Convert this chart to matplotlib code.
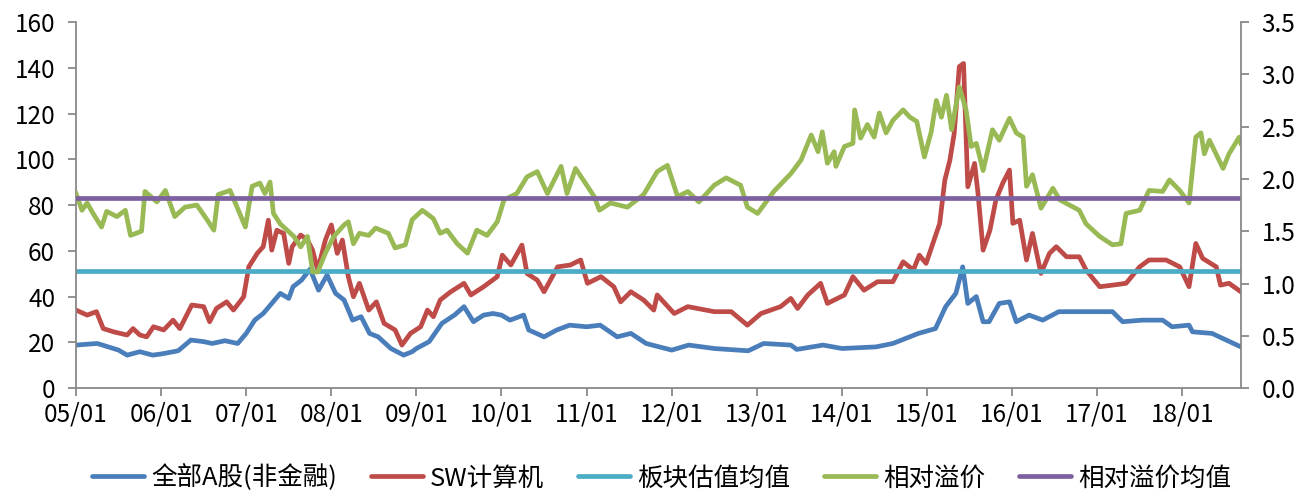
import matplotlib
matplotlib.use("Agg")
import matplotlib.pyplot as plt

plt.rcParams['font.family'] = ['Noto Sans CJK SC', 'DejaVu Sans']

# x positions are years since 2000 (5.0 = 2005-01)
tick_pos = list(range(5, 19))
tick_labels = ["05/01", "06/01", "07/01", "08/01", "09/01", "10/01", "11/01",
               "12/01", "13/01", "14/01", "15/01", "16/01", "17/01", "18/01"]

blue_x = [5.0, 5.25, 5.5, 5.6, 5.75, 5.9, 6.0, 6.2, 6.35, 6.5, 6.6, 6.75, 6.9, 7.0, 7.1, 7.2, 7.3, 7.4, 7.5,
          7.55, 7.65, 7.75, 7.85, 7.95, 8.05, 8.15, 8.25, 8.35, 8.45, 8.55, 8.7, 8.85, 8.95, 9.0, 9.15, 9.3,
          9.45, 9.56, 9.67, 9.79, 9.9, 10.0, 10.1, 10.26, 10.32, 10.5, 10.65, 10.8, 11.0, 11.16, 11.36, 11.52,
          11.7, 12.0, 12.2, 12.5, 12.9, 13.08, 13.4, 13.47, 13.78, 14.0, 14.4, 14.6, 14.9, 15.1, 15.22, 15.34,
          15.42, 15.48, 15.58, 15.66, 15.73, 15.85, 15.97, 16.05, 16.2, 16.36, 16.55, 16.87, 17.18, 17.3,
          17.53, 17.77, 17.88, 18.08, 18.12, 18.35, 18.69]
blue_y = [18.8, 19.5, 16.6, 14.4, 15.9, 14.4, 14.9, 16.3, 21, 20.3, 19.5, 20.7, 19.5, 23.9, 29.7, 32.6, 37, 41.4,
          39.2, 44.3, 47.2, 52, 42.8, 49.4, 41.4, 38.5, 29.7, 31.2, 23.9, 22.4, 17.3, 14.4, 15.9, 17.3, 20.3,
          28.3, 32, 35.6, 29, 31.9, 32.6, 31.9, 29.7, 31.9, 25.4, 22.4, 25.4, 27.5, 26.8, 27.5, 22.4, 23.9,
          19.5, 16.6, 18.8, 17.3, 16.3, 19.5, 18.8, 16.9, 18.8, 17.3, 18, 19.5, 23.9, 26, 35.6, 41.4, 53, 37,
          40, 29, 29, 37, 37.7, 29, 31.9, 29.7, 33.4, 33.4, 33.4, 29, 29.7, 29.7, 26.8, 27.5, 24.6, 23.9, 18]

red_x = [5.0, 5.13, 5.24, 5.32, 5.44, 5.6, 5.67, 5.75, 5.83, 5.91, 6.03, 6.14, 6.22, 6.36, 6.5, 6.57, 6.65, 6.77,
         6.85, 6.97, 7.03, 7.13, 7.2, 7.26, 7.3, 7.36, 7.44, 7.5, 7.54, 7.64, 7.72, 7.78, 7.84, 7.93, 8.0, 8.07,
         8.13, 8.2, 8.26, 8.33, 8.44, 8.53, 8.62, 8.75, 8.83, 8.93, 9.05, 9.13, 9.2, 9.28, 9.4, 9.56, 9.64, 9.79,
         9.95, 10.01, 10.11, 10.24, 10.3, 10.42, 10.5, 10.66, 10.81, 10.93, 11.01, 11.17, 11.32, 11.4, 11.52,
         11.67, 11.79, 11.83, 12.03, 12.19, 12.5, 12.7, 12.89, 13.05, 13.28, 13.4, 13.48, 13.6, 13.75, 13.83,
         14.03, 14.13, 14.26, 14.42, 14.6, 14.72, 14.84, 14.91, 14.99, 15.07, 15.15, 15.21, 15.27, 15.32, 15.38,
         15.43, 15.48, 15.56, 15.6, 15.66, 15.74, 15.81, 15.89, 15.97, 16.01, 16.09, 16.17, 16.24, 16.34, 16.44,
         16.52, 16.64, 16.79, 16.87, 17.03, 17.18, 17.34, 17.5, 17.61, 17.81, 17.97, 18.08, 18.16, 18.24, 18.4,
         18.45, 18.55, 18.69]
red_y = [34.1, 31.9, 33.4, 26, 24.6, 23.2, 26, 23.2, 22.4, 26.8, 25.4, 29.7, 26, 36.3, 35.6, 29, 34.8, 37.7, 34.1,
         39.9, 53, 58.9, 61.8, 73.4, 60.3, 69, 67.6, 54.5, 61.8, 66.9, 64.7, 60.3, 51.6, 64.7, 71.3, 58.9, 64.7,
         48.7, 39.9, 45.8, 34.1, 37.7, 28.3, 25.4, 18.8, 23.9, 26.8, 34.1, 31.2, 38.5, 42, 45.8, 40.7, 44.3, 48.7,
         58.1, 53.8, 62.5, 50.1, 47.2, 42.1, 53, 53.8, 56, 45.8, 48.7, 44.3, 37.7, 42.1, 38.5, 34.1, 40.7, 32.6,
         35.6, 33.4, 33.4, 27.5, 32.6, 35.6, 39.2, 34.8, 40.7, 45.8, 37, 40.7, 48.7, 42.8, 46.5, 46.5, 55.2, 51.6,
         58.1, 54.5, 63.2, 72, 90.9, 99.7, 111.3, 140.5, 141.9, 88, 98.2, 85.1, 60.3, 69, 82.2, 89.5, 95.3, 72,
         73.4, 56, 67.6, 50.1, 58.9, 61.8, 57.4, 57.4, 51.6, 44.3, 45, 45.8, 53, 56, 56, 53, 44.3, 63.2, 56.7,
         53, 45, 45.8, 42.1]

green_x = [5.0, 5.07, 5.13, 5.2, 5.3, 5.36, 5.48, 5.58, 5.64, 5.77, 5.81, 5.95, 6.05, 6.16, 6.28, 6.42, 6.54,
           6.62, 6.67, 6.81, 6.99, 7.07, 7.16, 7.22, 7.28, 7.32, 7.4, 7.48, 7.56, 7.64, 7.72, 7.78, 7.84, 7.93,
           8.03, 8.15, 8.2, 8.26, 8.33, 8.44, 8.52, 8.67, 8.75, 8.87, 8.95, 9.07, 9.2, 9.28, 9.36, 9.48, 9.6,
           9.71, 9.83, 9.95, 10.03, 10.18, 10.3, 10.42, 10.54, 10.7, 10.77, 10.87, 11.01, 11.09, 11.15, 11.28,
           11.48, 11.67, 11.83, 11.95, 12.07, 12.19, 12.32, 12.5, 12.64, 12.81, 12.89, 13.01, 13.2, 13.4, 13.52,
           13.64, 13.72, 13.77, 13.83, 13.91, 13.93, 14.03, 14.13, 14.15, 14.22, 14.3, 14.38, 14.44, 14.52,
           14.6, 14.72, 14.8, 14.88, 14.97, 15.05, 15.11, 15.17, 15.23, 15.29, 15.38, 15.46, 15.52, 15.58,
           15.66, 15.77, 15.85, 15.97, 16.05, 16.13, 16.17, 16.24, 16.34, 16.48, 16.56, 16.79, 16.87, 17.03,
           17.18, 17.28, 17.34, 17.5, 17.61, 17.77, 17.85, 17.97, 18.08, 18.16, 18.22, 18.26, 18.32, 18.48,
           18.55, 18.67, 18.69]
green_y = [1.86, 1.70, 1.77, 1.67, 1.54, 1.69, 1.64, 1.70, 1.46, 1.50, 1.88, 1.78, 1.89, 1.64, 1.73, 1.75, 1.61,
           1.51, 1.85, 1.89, 1.54, 1.93, 1.96, 1.86, 1.97, 1.67, 1.57, 1.51, 1.45, 1.35, 1.45, 1.11, 1.11, 1.29,
           1.45, 1.56, 1.59, 1.38, 1.48, 1.46, 1.53, 1.48, 1.34, 1.37, 1.61, 1.70, 1.62, 1.48, 1.51, 1.38, 1.29,
           1.51, 1.46, 1.59, 1.80, 1.86, 2.02, 2.07, 1.86, 2.12, 1.86, 2.10, 1.93, 1.83, 1.70, 1.77, 1.73, 1.85,
           2.07, 2.13, 1.83, 1.88, 1.78, 1.94, 2.01, 1.94, 1.73, 1.67, 1.88, 2.05, 2.18, 2.42, 2.26, 2.45, 2.15,
           2.26, 2.12, 2.31, 2.34, 2.66, 2.39, 2.52, 2.40, 2.63, 2.44, 2.56, 2.66, 2.59, 2.55, 2.21, 2.45, 2.75,
           2.59, 2.80, 2.47, 2.88, 2.66, 2.31, 2.34, 2.08, 2.47, 2.37, 2.58, 2.44, 2.40, 1.93, 2.04, 1.72, 1.91,
           1.80, 1.70, 1.57, 1.45, 1.37, 1.38, 1.67, 1.70, 1.89, 1.88, 1.99, 1.89, 1.77, 2.40, 2.44, 2.24, 2.37,
           2.10, 2.24, 2.40, 2.34]

sector_mean = 51.1      # 板块估值均值 (left axis)
premium_mean = 1.817    # 相对溢价均值 (right axis)
x_start, x_end = 5.0, 18.69

names = ["全部A股(非金融)", "SW计算机", "板块估值均值", "相对溢价", "相对溢价均值"]
colors = ["#4A7EBB", "#BE4B48", "#4BACC6", "#98B954", "#7D60A0"]

fig = plt.figure(figsize=(13.02, 4.90), dpi=100)
ax = fig.add_axes([0.0584, 0.208, 0.8947, 0.747])
ax2 = ax.twinx()

lw = 3.4
h1, = ax.plot(blue_x, blue_y, color=colors[0], lw=lw, solid_joinstyle='round')
h2, = ax.plot(red_x, red_y, color=colors[1], lw=lw, solid_joinstyle='round')
h3, = ax.plot([x_start, x_end], [sector_mean, sector_mean], color=colors[2], lw=lw)
h4, = ax2.plot(green_x, green_y, color=colors[3], lw=lw, solid_joinstyle='round')
h5, = ax2.plot([x_start, x_end], [premium_mean, premium_mean], color=colors[4], lw=lw)

ax.set_xlim(x_start, x_end)
ax.set_ylim(0, 160)
ax.set_yticks(range(0, 161, 20))
ax2.set_ylim(0, 3.5)
ax2.set_yticks([i * 0.5 for i in range(8)])
ax2.set_yticklabels([f"{i * 0.5:.1f}" for i in range(8)])
ax.set_xticks(tick_pos)
ax.set_xticklabels(tick_labels)

spine_c = "#898989"
for a in (ax, ax2):
    a.spines['top'].set_visible(False)
    for s in ('left', 'right', 'bottom'):
        a.spines[s].set_color(spine_c)
        a.spines[s].set_linewidth(1.3)
    a.tick_params(colors=spine_c, labelcolor='black', labelsize=17.5, length=6, width=1.3, direction='out')
ax.spines['right'].set_visible(False)
ax2.spines['left'].set_visible(False)
ax2.spines['bottom'].set_visible(False)
ax.tick_params(axis='y', pad=9)
ax2.tick_params(axis='y', pad=9)
ax.tick_params(axis='x', pad=4)

leg = fig.legend([h1, h2, h3, h4, h5], names, loc='center', bbox_to_anchor=(0.508, 0.0245),
                 ncol=5, frameon=False, fontsize=18.4, handlelength=2.04, handletextpad=0.27,
                 columnspacing=1.33, borderpad=0.0)
for lh in leg.get_lines():
    lh.set_solid_capstyle('round')

fig.savefig("out.png", dpi=100)
